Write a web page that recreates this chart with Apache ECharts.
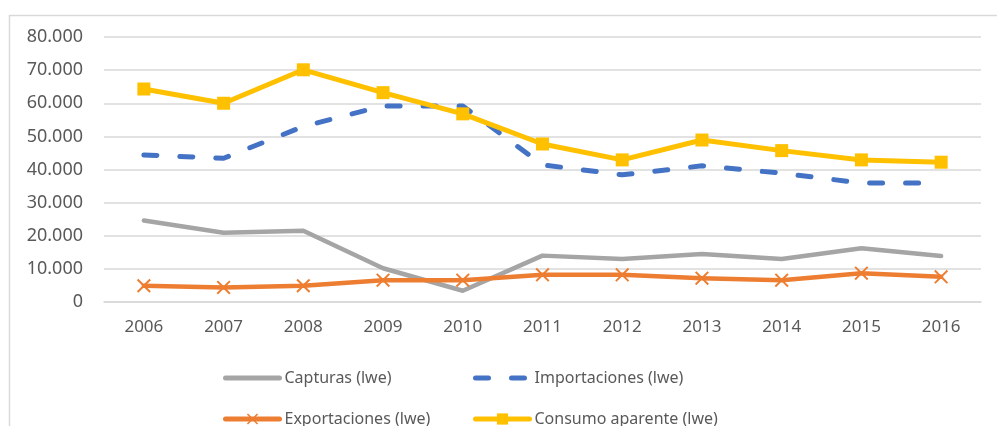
<!DOCTYPE html>
<html>
<head>
<meta charset="utf-8">
<script src="https://cdn.jsdelivr.net/npm/echarts@6/dist/echarts.min.js"></script>
<style>
  html, body { margin: 0; padding: 0; background: #fff; }
  #chart { width: 997px; height: 426px; }
</style>
</head>
<body>
<div id="chart"></div>
<script>
var years = ['2006', '2007', '2008', '2009', '2010', '2011', '2012', '2013', '2014', '2015', '2016']
var capturas = [24600, 20900, 21500, 10200, 3400, 14000, 13000, 14500, 13000, 16200, 13900]
var importaciones = [44400, 43400, 53000, 59200, 59200, 41400, 38400, 41100, 38900, 35900, 35900]
var exportaciones = [4900, 4400, 4900, 6600, 6600, 8200, 8200, 7200, 6600, 8700, 7600]
var consumo = [64300, 60000, 70100, 63200, 56800, 47700, 42900, 48900, 45700, 42900, 42200]

var seriesNames = ['Capturas (lwe)', 'Importaciones (lwe)', 'Exportaciones (lwe)', 'Consumo aparente (lwe)']

// thin "x" marker
var crossPath = 'path://M0,1L1,0L5,4L9,0L10,1L6,5L10,9L9,10L5,6L1,10L0,9L4,5Z'

function fmt(v) {
    if (v === 0) return '0'
    var k = Math.floor(v / 1000)
    var r = String(v % 1000).padStart(3, '0')
    return k + '.' + r
}

var font = 'Noto Sans'
var textColor = '#595959'

function legendAt(name, left, top, hideSymbol) {
    var item = { name: name }
    if (hideSymbol) item.itemStyle = { opacity: 0 }
    return {
        data: [item],
        left: left,
        top: top,
        padding: 0,
        itemWidth: 54,
        itemHeight: 14,
        selectedMode: false,
        lineStyle: { width: 5 },
        textStyle: { fontFamily: font, fontSize: 16, color: textColor }
    }
}

var myChart = echarts.init(document.getElementById('chart'))

var option = {
    animation: false,
    backgroundColor: '#fff',
    graphic: [
        {
            type: 'rect',
            shape: { x: 9.5, y: 15.5, width: 1100, height: 500 },
            style: { fill: 'none', stroke: '#d9d9d9', lineWidth: 1.5 },
            silent: true
        }
    ],
    grid: { left: 104, right: 16, top: 37, bottom: 124 },
    legend: [
        legendAt(seriesNames[0], 223, 370, true),
        legendAt(seriesNames[1], 473, 370, true),
        legendAt(seriesNames[2], 223, 411, false),
        legendAt(seriesNames[3], 473, 411, false)
    ],
    xAxis: {
        type: 'category',
        data: years,
        boundaryGap: true,
        axisLine: { lineStyle: { color: '#d9d9d9', width: 1.5 } },
        axisTick: { show: false },
        axisLabel: { fontFamily: font, fontSize: 17, color: textColor, margin: 17 }
    },
    yAxis: {
        type: 'value',
        min: 0,
        max: 80000,
        interval: 10000,
        axisLine: { show: false },
        axisTick: { show: false },
        splitLine: { lineStyle: { color: '#d9d9d9', width: 1.5 } },
        axisLabel: {
            fontFamily: font, fontSize: 18, color: textColor, margin: 21,
            formatter: fmt
        }
    },
    series: [
        {
            name: seriesNames[0],
            type: 'line',
            data: capturas,
            symbol: 'none',
            color: '#a5a5a5',
            lineStyle: { width: 4.5, color: '#a5a5a5', cap: 'round', join: 'round' }
        },
        {
            name: seriesNames[1],
            type: 'line',
            data: importaciones,
            symbol: 'none',
            color: '#4472c4',
            lineStyle: { width: 5, color: '#4472c4', type: [13, 23], cap: 'round', join: 'round' }
        },
        {
            name: seriesNames[2],
            type: 'line',
            data: exportaciones,
            symbol: crossPath,
            symbolSize: 14,
            color: '#ed7d31',
            itemStyle: { color: '#ed7d31' },
            lineStyle: { width: 4.5, color: '#ed7d31', cap: 'round', join: 'round' }
        },
        {
            name: seriesNames[3],
            type: 'line',
            data: consumo,
            symbol: 'rect',
            symbolSize: 13,
            color: '#ffc000',
            itemStyle: { color: '#ffc000' },
            lineStyle: { width: 5, color: '#ffc000', cap: 'round', join: 'round' }
        }
    ]
}

myChart.setOption(option)
</script>
</body>
</html>
